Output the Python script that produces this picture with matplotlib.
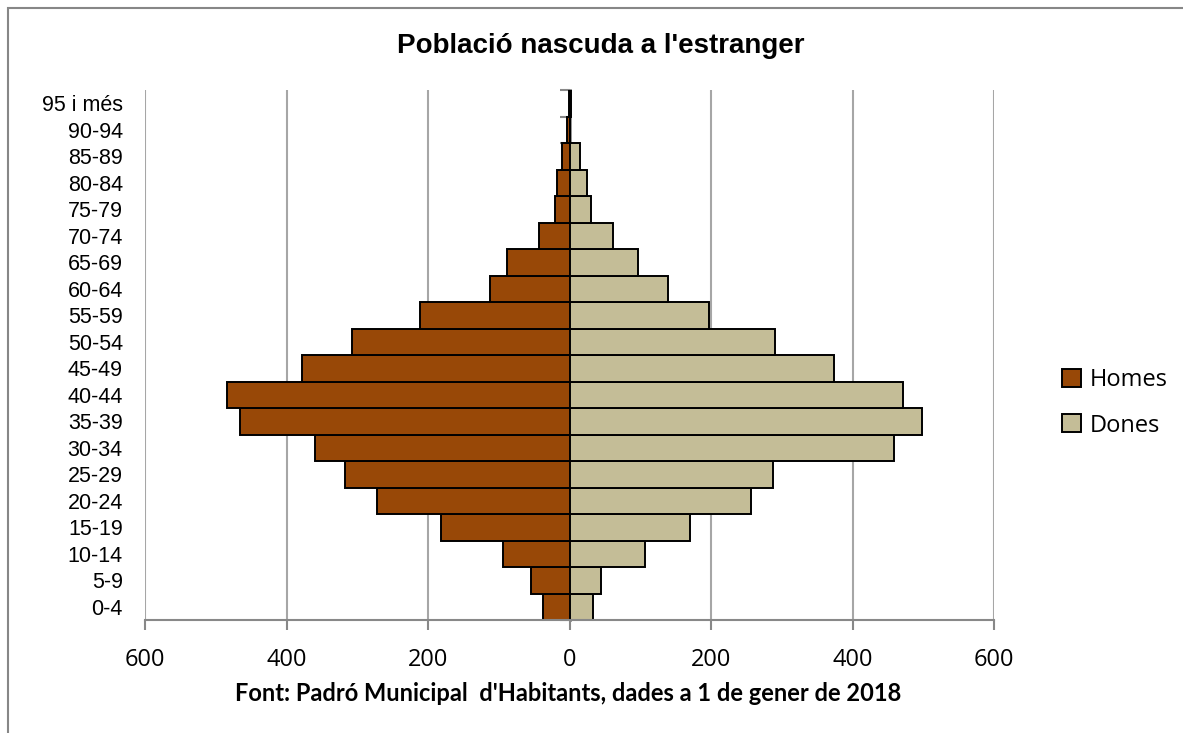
import matplotlib.pyplot as plt
from matplotlib.patches import Rectangle
from matplotlib.ticker import FuncFormatter

# Grups d'edat, de baix a dalt
grups = ['0-4', '5-9', '10-14', '15-19', '20-24', '25-29', '30-34', '35-39',
         '40-44', '45-49', '50-54', '55-59', '60-64', '65-69', '70-74',
         '75-79', '80-84', '85-89', '90-94', '95 i més']
homes = [38, 55, 94, 182, 272, 317, 360, 466, 484, 378, 308, 212, 112, 88,
         43, 21, 18, 10, 3, 1]
dones = [33, 45, 106, 170, 257, 287, 459, 498, 471, 374, 290, 197, 139, 97,
         61, 30, 24, 15, 1, 2]
eix_x = [-600, -400, -200, 0, 200, 400, 600]

fig = plt.figure(figsize=(11.83, 7.33), dpi=100)
ax = fig.add_axes([0.1226, 0.154, 0.7177, 0.723])

pos = list(range(len(grups)))
ax.barh(pos, [-h for h in homes], height=1.0, color='#984807',
        edgecolor='black', linewidth=1.4, label='Homes', zorder=2)
ax.barh(pos, dones, height=1.0, color='#C4BD97',
        edgecolor='black', linewidth=1.4, label='Dones', zorder=2)

ax.set_xlim(-600, 600)
ax.set_ylim(-0.5, len(grups) - 0.5)
ax.set_xticks(eix_x)
ax.xaxis.set_major_formatter(FuncFormatter(lambda v, p: f'{abs(int(v))}'))
ax.grid(axis='x', color='#A6A6A6', linewidth=1.5, zorder=0)
ax.set_axisbelow(True)
for s in ['top', 'right', 'left']:
    ax.spines[s].set_visible(False)
ax.spines['bottom'].set_color('#888888')
ax.spines['bottom'].set_linewidth(1.5)
ax.tick_params(axis='x', length=7, width=1.5, color='#888888', pad=13,
               labelsize=17)
for t in ax.get_xticklabels():
    t.set_fontfamily('Open Sans')

ax.set_yticks(pos)
ax.set_yticklabels(grups, fontfamily='Liberation Sans', fontsize=15.5)
ax.tick_params(axis='y', length=0, pad=16)

# Eix central amb marques entre grups
secax = ax.secondary_yaxis(0.5)
secax.set_alignment('left')
secax.set_yticks([p - 0.5 for p in pos] + [len(grups) - 0.5])
secax.set_yticklabels([])
secax.spines['left'].set_color('#888888')
secax.spines['left'].set_linewidth(2)
secax.tick_params(axis='y', length=7, width=1.5, color='#888888',
                  direction='out')

fig.text(0.508, 0.937, "Població nascuda a l'estranger", ha='center',
         va='center', fontsize=20, fontweight='bold',
         fontfamily='Liberation Sans')
fig.text(0.48, 0.054, "Font: Padró Municipal  d'Habitants, dades a 1 de gener de 2018",
         ha='center', va='center', fontsize=17, fontweight='bold',
         fontfamily='Lato')

fig.legend(loc='center left', bbox_to_anchor=(1041 / 1183, 1 - 403 / 733),
           frameon=False, prop={'family': 'Open Sans', 'size': 17},
           handlelength=0.8, handleheight=0.8, labelspacing=0.9,
           handletextpad=0.35)

# Marc del gràfic
fig.patches.append(Rectangle((8 / 1183, -0.1), 1.2, 0.989 + 0.1,
                             transform=fig.transFigure, fill=False,
                             edgecolor='#878787', linewidth=1.5))

fig.savefig('out.png', dpi=100)
